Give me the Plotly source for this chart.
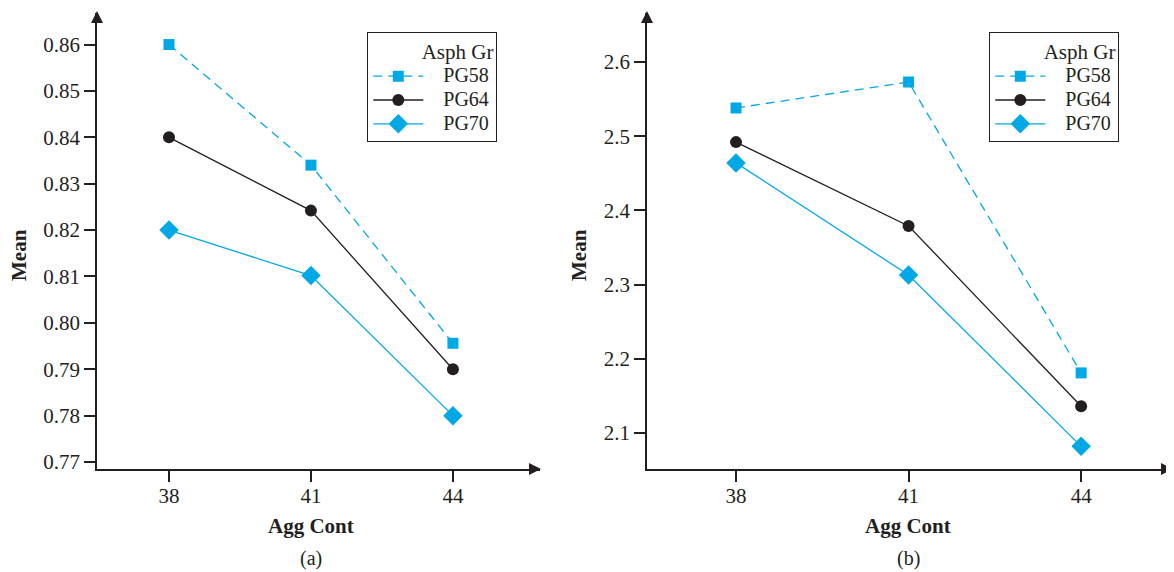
import plotly.graph_objects as go

agg_cont = [38, 41, 44]
series_names = ["PG58", "PG64", "PG70"]

# Panel (a)
a_pg58 = [0.860, 0.834, 0.7956]
a_pg64 = [0.840, 0.8242, 0.790]
a_pg70 = [0.820, 0.8102, 0.780]

# Panel (b)
b_pg58 = [2.538, 2.573, 2.181]
b_pg64 = [2.492, 2.379, 2.136]
b_pg70 = [2.464, 2.313, 2.082]

a_ticks = [0.77, 0.78, 0.79, 0.80, 0.81, 0.82, 0.83, 0.84, 0.85, 0.86]
b_ticks = [2.1, 2.2, 2.3, 2.4, 2.5, 2.6]

OFF = 8  # page body margin
W, H = 1174 - OFF, 572 - OFF
CYAN = "#00a8e6"
DARK = "#231f20"
FONT = "Liberation Serif, Times New Roman, serif"

styles = {
    "PG58": dict(line=dict(color=CYAN, width=1.3, dash="9px,6px"),
                 marker=dict(symbol="square", size=11, color=CYAN)),
    "PG64": dict(line=dict(color=DARK, width=1.3),
                 marker=dict(symbol="circle", size=12, color=DARK)),
    "PG70": dict(line=dict(color=CYAN, width=1.3),
                 marker=dict(symbol="diamond", size=15, color=CYAN)),
}

def leg_name(n):
    return '<span style="font-size:20px">   %s</span>' % n

fig = go.Figure()
for name, vals in zip(series_names, [a_pg58, a_pg64, a_pg70]):
    fig.add_trace(go.Scatter(x=agg_cont, y=vals, mode="lines+markers", name=leg_name(name),
                             xaxis="x", yaxis="y", legend="legend", **styles[name]))
for name, vals in zip(series_names, [b_pg58, b_pg64, b_pg70]):
    fig.add_trace(go.Scatter(x=agg_cont, y=vals, mode="lines+markers", name=leg_name(name),
                             xaxis="x2", yaxis="y2", legend="legend2", **styles[name]))

def px_x(p):
    return (p - OFF) / W

def px_y(p):
    return 1 - (p - OFF) / H

def ax_common(is_x):
    d = dict(showgrid=False, zeroline=False, showline=True, linecolor=DARK, linewidth=1.5,
             ticks="outside", ticklen=11, tickwidth=1.5, tickcolor=DARK,
             tickfont=dict(family=FONT, size=21, color=DARK))
    if is_x:
        d["ticklabelstandoff"] = -4
    return d

def legend_cfg(xpix):
    return dict(x=px_x(xpix), y=px_y(32), xanchor="left", yanchor="top",
                bordercolor=DARK, borderwidth=1.3, bgcolor="white",
                itemwidth=50,
                title=dict(text='<span style="font-size:21px">          Asph Gr</span>',
                           font=dict(family=FONT, size=20, color=DARK)),
                font=dict(family=FONT, size=16, color=DARK), tracegroupgap=0)

fig.update_layout(
    width=W, height=H,
    margin=dict(l=0, r=0, t=0, b=0, autoexpand=False),
    paper_bgcolor="white", plot_bgcolor="white",
    font=dict(family=FONT, color=DARK),
    xaxis=dict(domain=[px_x(97), px_x(540)], range=[36.479, 45.84],
               tickvals=agg_cont, anchor="y", **ax_common(True)),
    yaxis=dict(domain=[px_y(469), px_y(13)], range=[0.7685, 0.8668],
               tickvals=a_ticks, tickformat=".2f", anchor="x", **ax_common(False)),
    xaxis2=dict(domain=[px_x(647), px_x(1172)], range=[36.452, 45.58],
                tickvals=agg_cont, anchor="y2", **ax_common(True)),
    yaxis2=dict(domain=[px_y(469), px_y(13)], range=[2.0515, 2.666],
                tickvals=b_ticks, tickformat=".1f", anchor="x2", **ax_common(False)),
    legend=legend_cfg(367),
    legend2=legend_cfg(989),
    showlegend=True,
)

anns = []
# axis arrowheads
for (xe, ye) in [(541, 469), (1173, 469)]:
    anns.append(dict(x=px_x(xe), y=px_y(ye), xref="paper", yref="paper", showarrow=True,
                     ax=-12, ay=0, arrowhead=2, arrowsize=1.6, arrowwidth=1.5, arrowcolor=DARK, text=""))
for (xe, ye) in [(97, 11), (647, 11)]:
    anns.append(dict(x=px_x(xe), y=px_y(ye), xref="paper", yref="paper", showarrow=True,
                     ax=0, ay=12, arrowhead=2, arrowsize=1.6, arrowwidth=1.5, arrowcolor=DARK, text=""))
# axis titles and captions
common = dict(xref="paper", yref="paper", showarrow=False, xanchor="center", yanchor="middle")
for cx in [311, 908]:
    anns.append(dict(x=px_x(cx), y=px_y(526), text="<b>Agg Cont</b>",
                     font=dict(family=FONT, size=21, color=DARK), **common))
anns.append(dict(x=px_x(311), y=px_y(558), text="(a)",
                 font=dict(family=FONT, size=20, color=DARK), **common))
anns.append(dict(x=px_x(908), y=px_y(558), text="(b)",
                 font=dict(family=FONT, size=20, color=DARK), **common))
for cx in [19, 579]:
    anns.append(dict(x=px_x(cx), y=px_y(255), text="<b>Mean</b>", textangle=-90,
                     font=dict(family=FONT, size=21, color=DARK), **common))
fig.update_layout(annotations=anns)

fig.write_html("out.html")
